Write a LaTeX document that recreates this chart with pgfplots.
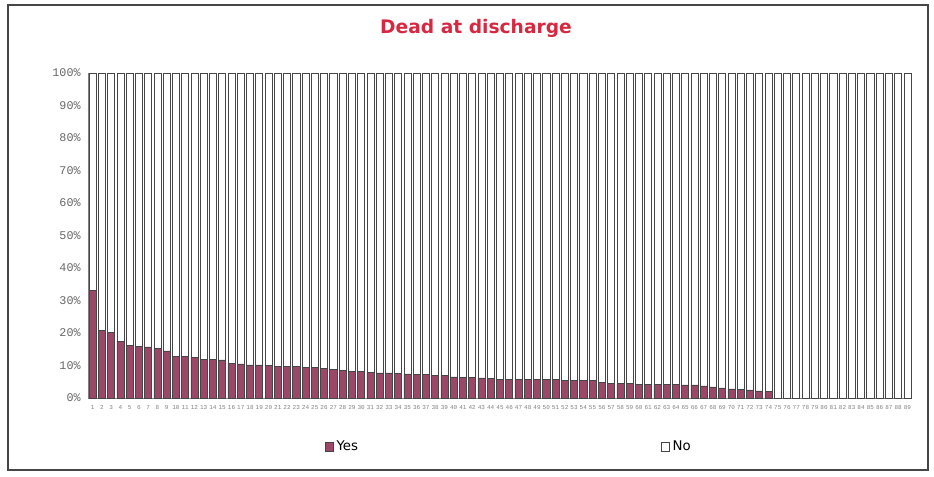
\documentclass[border=0pt]{standalone}
\usepackage{pgfplots}
\pgfplotsset{compat=1.18}
\usepackage{pgfplotstable}
\usepackage{fontspec}
\setmainfont{DejaVu Sans}
\newfontfamily\monof{Liberation Mono}
\definecolor{yescol}{RGB}{155,72,104}
\definecolor{titlered}{RGB}{214,40,64}
\definecolor{edgecol}{RGB}{70,70,70}
\pgfplotstableread{
x yes no
1 33.2 66.8
2 20.9 79.1
3 20.1 79.9
4 17.5 82.5
5 16.3 83.7
6 15.8 84.2
7 15.7 84.3
8 15.2 84.8
9 14.5 85.5
10 12.8 87.2
11 12.8 87.2
12 12.4 87.6
13 11.9 88.1
14 11.9 88.1
15 11.7 88.3
16 10.7 89.3
17 10.5 89.5
18 10.2 89.8
19 10.2 89.8
20 10.1 89.9
21 9.8 90.2
22 9.7 90.3
23 9.6 90.4
24 9.5 90.5
25 9.3 90.7
26 9.2 90.8
27 8.8 91.2
28 8.6 91.4
29 8.3 91.7
30 8.2 91.8
31 7.9 92.1
32 7.7 92.3
33 7.7 92.3
34 7.5 92.5
35 7.4 92.6
36 7.3 92.7
37 7.2 92.8
38 7.0 93.0
39 7.0 93.0
40 6.5 93.5
41 6.4 93.6
42 6.4 93.6
43 6.2 93.8
44 5.9 94.1
45 5.8 94.2
46 5.7 94.3
47 5.7 94.3
48 5.7 94.3
49 5.7 94.3
50 5.6 94.4
51 5.6 94.4
52 5.5 94.5
53 5.4 94.6
54 5.3 94.7
55 5.3 94.7
56 4.8 95.2
57 4.6 95.4
58 4.4 95.6
59 4.4 95.6
60 4.2 95.8
61 4.2 95.8
62 4.2 95.8
63 4.1 95.9
64 4.1 95.9
65 4.0 96.0
66 4.0 96.0
67 3.7 96.3
68 3.4 96.6
69 3.1 96.9
70 2.8 97.2
71 2.6 97.4
72 2.5 97.5
73 2.2 97.8
74 1.9 98.1
75 0 100
76 0 100
77 0 100
78 0 100
79 0 100
80 0 100
81 0 100
82 0 100
83 0 100
84 0 100
85 0 100
86 0 100
87 0 100
88 0 100
89 0 100
}\deadtable
\begin{document}
\begin{tikzpicture}
\useasboundingbox (0,0) rectangle (700.5pt,357.75pt);
\draw[edgecol, line width=0.9pt] (6pt,5.25pt) rectangle (696pt,354pt);
\node[font=\fontsize{14}{16}\selectfont\bfseries, text=titlered] at (357pt,336.5pt) {Dead at discharge};
\begin{axis}[
  at={(66pt,59.25pt)}, anchor=south west,
  scale only axis, width=618pt, height=243.75pt,
  ybar stacked, bar width=5.3pt,
  xmin=0.5, xmax=89.5, ymin=0, ymax=100,
  clip=false,
  axis x line=bottom, axis y line=left,
  axis line style={gray, -},
  xtick={1,...,89},
  xticklabel={\pgfmathtruncatemacro\v{\tick}\v},
  x tick label style={font=\monof\fontsize{4.5}{5}\selectfont, text=gray, yshift=-2pt},
  ytick={0,10,...,100},
  yticklabel={\pgfmathtruncatemacro\v{\tick}\v\%},
  y tick label style={font=\monof\fontsize{8.8}{10}\selectfont, text=gray!80!black, xshift=-2pt},
  major tick length=0pt,
  legend style={at={(0.511,-0.151)}, anchor=center, draw=none, fill=none,
    legend columns=2, font=\fontsize{10}{12}\selectfont,
    /tikz/every even column/.append style={column sep=225pt}},
  legend image code/.code={\draw[#1] (0pt,-3.2pt) rectangle (6.4pt,3.2pt);},
]
\addplot[fill=yescol, draw=edgecol, line width=0.5pt] table[x=x,y=yes]{\deadtable};
\addplot[fill=white, draw=edgecol, line width=0.5pt] table[x=x,y=no]{\deadtable};
\legend{Yes,No}
\end{axis}
\end{tikzpicture}
\end{document}
